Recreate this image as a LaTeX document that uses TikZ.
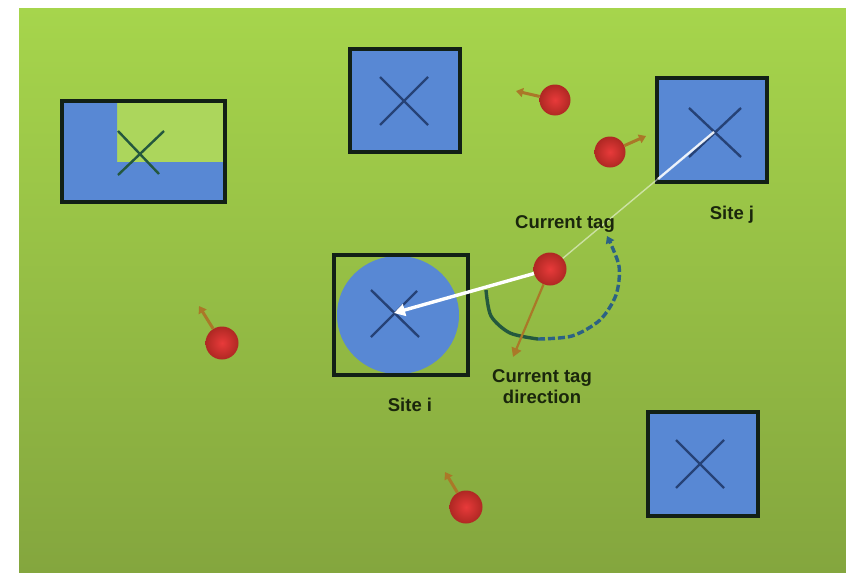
\documentclass[tikz,border=0pt]{standalone}
\usepackage{fontspec}
\setmainfont{Liberation Sans}
\usetikzlibrary{arrows.meta,shapes.geometric}
\definecolor{bgtop}{RGB}{166,213,76}
\definecolor{bgbot}{RGB}{132,166,62}
\definecolor{siteblue}{RGB}{88,136,212}
\definecolor{crossblue}{RGB}{38,66,118}
\definecolor{lightg}{RGB}{172,214,92}
\definecolor{tagin}{RGB}{232,58,58}
\definecolor{tagout}{RGB}{175,40,35}
\definecolor{tailc}{RGB}{170,120,40}
\definecolor{txt}{RGB}{26,38,12}
\definecolor{arcg}{RGB}{36,88,62}
\definecolor{arcb}{RGB}{44,98,132}
\definecolor{borderc}{RGB}{18,32,22}
\begin{document}
\begin{tikzpicture}[x=1pt,y=-1pt,
  sitebox/.style={draw=borderc, line width=3.5pt, fill=siteblue, inner sep=0pt, outer sep=0pt},
  crossline/.style={draw=crossblue, line width=2.4pt},
  tag/.style={circle, minimum size=31pt, inner sep=0pt, shading=radial, inner color=tagin, outer color=tagout},
  tail/.style={draw=tailc, line width=3pt, -{Triangle[width=9pt,length=7pt]}},
  lbl/.style={text=txt, font=\fontsize{18.5}{21}\selectfont\bfseries, inner sep=0pt},
]
\useasboundingbox (0,0) rectangle (846,573);
\fill[white] (0,0) rectangle (846,573);
\shade[top color=bgtop, bottom color=bgbot] (19,8) rectangle (846,572);

% Box A (top left), partly covered
\node[rectangle, minimum width=163pt, minimum height=101pt, inner sep=0pt, outer sep=0pt, fill=lightg] (boxa) at (143.5,151.5) {};
\fill[siteblue] (boxa.north west) -- (117,101) -- (117,162) -- (boxa.east |- 0,162) -- (boxa.south east) -- (boxa.south west) -- cycle;
\draw[crossline, draw=arcg] (118,131) -- (159,174);
\draw[crossline, draw=arcg] (118,175) -- (164,131);
\draw[draw=borderc, line width=3.5pt] (boxa.north west) rectangle (boxa.south east);

% Box B
\node[sitebox, minimum width=110pt, minimum height=103pt] (boxb) at (405,100.5) {};
\draw[crossline] (380,77) -- (428,125);
\draw[crossline] (380,125) -- (428,77);

% Box C (site j)
\node[sitebox, minimum width=110pt, minimum height=104pt] (sj) at (712,130) {};
\coordinate (sjc) at (714,132);
\draw[crossline] (689,108) -- (741,157);
\draw[crossline] (689,157) -- (741,108);

% Box D (site i)
\fill[siteblue] (398,315) ellipse [x radius=61pt, y radius=59pt];
\node[rectangle, draw=borderc, line width=3.5pt, minimum width=134pt, minimum height=120pt, inner sep=0pt, outer sep=0pt] (si) at (401,315) {};
\coordinate (sic) at (394,313);
\draw[crossline] (371,290) -- (419,337);
\draw[crossline] (371,337) -- (417,291);

% Box E
\node[sitebox, minimum width=110pt, minimum height=104pt] (boxe) at (703,464) {};
\draw[crossline] (676,440) -- (724,488);
\draw[crossline] (676,488) -- (724,440);

% other tags
\node[tag] (t1) at (555,100) {};
\coordinate (t1tip) at (516,91);
\draw[tail] (t1) -- (t1tip);
\node[tag] (t2) at (610,152) {};
\coordinate (t2tip) at (646,136);
\draw[tail] (t2) -- (t2tip);
\node[tag, minimum size=33pt] (t3) at (222,343) {};
\coordinate (t3tip) at (199,306);
\draw[tail] (t3) -- (t3tip);
\node[tag, minimum size=33pt] (t4) at (466,507) {};
\coordinate (t4tip) at (445,472);
\draw[tail] (t4) -- (t4tip);

% rotation arc around current tag
\draw[arcg, line width=3.4pt] plot[smooth] coordinates {(486,290) (491,316) (510,333) (538,339)};
\draw[arcb, line width=3.4pt, dash pattern=on 7pt off 3pt, -{Triangle[width=9pt,length=7pt]}] plot[smooth] coordinates {(538,339) (572,336) (600,320) (616,295) (619,266) (607,236)};

% current tag
\node[tag, minimum size=33pt] (ct) at (550,269) {};
\draw[white, opacity=0.5, line width=1.4pt] (ct) -- (sjc);
\coordinate (sjin) at (658,179);
\draw[white, opacity=0.8, line width=2.4pt] (sjin) -- (sjc);
\coordinate (dirtip) at (513,357);
\draw[tailc, line width=2.2pt, -{Triangle[width=10pt,length=9pt]}] (ct) -- (dirtip);
\draw[white, line width=3.4pt, -{Triangle[width=12pt,length=11pt]}] (ct) -- (sic);

% labels
\node[lbl] (lct) at (565,224) {Current tag};
\node[lbl] (lsj) at (732,215) {Site j};
\node[lbl, align=center] (ldir) at (542,387) {Current tag\\direction};
\node[lbl] (lsi) at (410,405) {Site i};
\end{tikzpicture}
\end{document}
